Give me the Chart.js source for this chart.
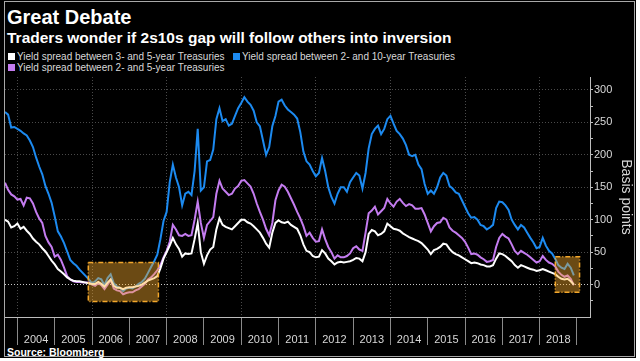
<!doctype html>
<html>
<head>
<meta charset="utf-8">
<title>Great Debate</title>
<script src="https://cdn.jsdelivr.net/npm/chart.js"></script>
<style>
  html, body { margin: 0; padding: 0; background: #fff; }
  #wrap { position: relative; width: 640px; height: 361px; overflow: hidden; font-family: "Liberation Sans", Arial, sans-serif; }
  #bg { position: absolute; left: 0; top: 0; width: 636px; height: 358px; background: #000; }
  #frame { position: absolute; left: 4px; top: 1px; width: 631px; height: 356px; border: 1px solid #a8a8a8; box-sizing: border-box; }
  canvas { position: absolute; left: 0; top: 0; }
  .t { position: absolute; left: 7px; color: #fff; font-weight: bold; white-space: nowrap; }
  #title { top: 7px; font-size: 20px; line-height: 20px; }
  #sub { top: 29px; font-size: 15.5px; line-height: 18px; }
  #source { top: 346px; font-size: 10.5px; line-height: 12px; }
  .leg { position: absolute; font-size: 10px; line-height: 11px; color: #d8d8d8; white-space: nowrap; padding-left: 9px; }
  .leg span { position: absolute; left: 0; top: 2px; width: 7px; height: 7px; }
</style>
</head>
<body>
<div id="wrap">
  <div id="bg"></div>
  <div id="frame"></div>
  <div class="t" id="title">Great Debate</div>
  <div class="t" id="sub">Traders wonder if 2s10s gap will follow others into inversion</div>
  <div id="legend"></div>
  <div class="t" id="source">Source: Bloomberg</div>
  <canvas id="chart" width="640" height="361"></canvas>
</div>
<script>
// monthly readings, first point Sep 2003, last point Dec 2018
const firstYear = 2003;
const firstMonth = 9;

const seriesNames = [
  'Yield spread between 3- and 5-year Treasuries',
  'Yield spread between 2- and 10-year Treasuries',
  'Yield spread between 2- and 5-year Treasuries'
];
const seriesColors = ['#ffffff', '#1c8af0', '#c47cf0'];

const spread3s5s = [
  100, 97, 88, 90,
  94, 86, 89, 83, 78, 71, 66, 62, 56, 51, 44, 37,
  31, 24, 20, 16, 11, 8, 6, 5, 5, 4, 3, 2,
  1, 1, 4, 1, -3, 3, 8, -2, -5, -5, -7, -5,
  -4, -4, -3, -2, 0, 3, 6, 8, 10, 13, 25, 40,
  50, 60, 72, 62, 55, 43, 48, 47, 48, 70, 95, 50,
  32, 45, 54, 58, 85, 102, 92, 89, 87, 85, 90, 95,
  100, 100, 96, 94, 90, 85, 80, 72, 63, 57, 80, 95,
  99, 96, 95, 97, 92, 89, 86, 76, 62, 52, 50, 44,
  42, 43, 53, 48, 40, 36, 31, 34, 35, 34, 35, 36,
  38, 41, 40, 36, 50, 78, 84, 82, 76, 78, 82, 94,
  90, 86, 85, 83, 79, 76, 73, 71, 69, 67, 64, 59,
  54, 47, 53, 55, 58, 63, 62, 55, 50, 47, 45, 42,
  39, 36, 33, 34, 33, 31, 30, 28, 28, 30, 40, 48,
  47, 44, 40, 36, 30, 26, 30, 28, 26, 24, 23, 21,
  22, 24, 22, 20, 18, 16, 12, 9, 8, 9, 5, 0
];

const spread2s10s = [
  266, 262, 242, 243,
  240, 237, 233, 230, 222, 212, 196, 182, 170, 152, 140, 126,
  105, 82, 74, 64, 51, 38, 33, 29, 23, 18, 13, 8,
  2, 5, 10, 8, -1, 10, 16, 2, -3, -5, -10, -6,
  -5, -6, -3, 1, 4, 9, 18, 27, 36, 46, 70, 98,
  112, 158, 185, 165, 150, 122, 140, 143, 138, 175, 240, 145,
  150, 190, 192, 208, 255, 272, 252, 255, 245, 248, 260, 272,
  280, 289, 282, 277, 268, 250, 244, 222, 200, 212, 244, 260,
  282, 285, 276, 270, 266, 262, 256, 235, 205, 190, 185, 175,
  167, 172, 195, 175, 150, 135, 125, 140, 150, 150, 143, 158,
  165, 172, 168, 148, 172, 210, 232, 240, 245, 232, 240, 255,
  260, 248, 237, 232, 225, 215, 200, 198, 200, 185, 178, 155,
  140, 145, 140, 150, 165, 172, 168, 152, 148, 142, 140, 130,
  120, 110, 103, 104, 100, 92, 90, 85, 88, 92, 118, 128,
  127, 122, 115, 100, 92, 85, 92, 88, 80, 72, 65, 56,
  58, 72, 60, 52, 48, 40, 30, 26, 24, 32, 26, 14
];

const spread2s5s = [
  157, 146, 139, 136,
  131, 132, 122, 134, 133, 125, 112, 102, 95, 75, 65, 58,
  43, 46, 38, 26, 13, 8, 5, 4, 4, 3, 3, 3,
  0, -2, 2, -1, -7, 0, 7, -6, -9, -10, -15, -13,
  -12, -12, -9, -7, -3, 1, 8, 11, 16, 22, 30, 42,
  52, 66, 92, 85, 76, 75, 78, 75, 76, 100, 128, 95,
  72, 92, 98, 104, 140, 160, 148, 143, 138, 140, 148, 152,
  160, 161, 156, 151, 140, 125, 112, 100, 86, 76, 95, 130,
  145, 154, 151, 143, 133, 123, 112, 102, 90, 75, 80, 72,
  66, 67, 85, 70, 58, 50, 40, 45, 42, 42, 44, 48,
  56, 59, 54, 52, 80, 110, 114, 120, 108, 113, 118, 132,
  125, 120, 128, 132, 126, 121, 124, 122, 117, 117, 118, 108,
  95, 82, 90, 95, 96, 103, 100, 88, 83, 80, 76, 72,
  66, 57, 47, 48, 46, 42, 39, 35, 36, 38, 58, 72,
  78, 74, 71, 62, 52, 47, 52, 49, 46, 42, 38, 34,
  36, 44, 38, 34, 32, 28, 20, 15, 12, 14, 9, -1
];

const yearTicks = [2004, 2005, 2006, 2007, 2008, 2009, 2010, 2011, 2012, 2013, 2014, 2015, 2016, 2017, 2018, 2019];
const yearLabels = ['2004', '2005', '2006', '2007', '2008', '2009', '2010', '2011', '2012', '2013', '2014', '2015', '2016', '2017', '2018', ''];
const yTicks = [-50, -25, 0, 25, 50, 75, 100, 125, 150, 175, 200, 225, 250, 275, 300];
const yLabelValues = [0, 50, 100, 150, 200, 250, 300];

// shaded areas, in years and basis points
const highlightBoxes = [
  { from: 2005.9, to: 2007.78, low: -26, high: 34 },
  { from: 2018.42, to: 2019.07, low: -12, high: 43 }
];

const allSeries = [spread3s5s, spread2s10s, spread2s5s];
const toPoints = (vals) => vals.map((v, i) => ({ x: firstYear + (firstMonth - 1 + i) / 12, y: v }));

// html legend
const legendBox = document.getElementById('legend');
const legendSpots = [[8, 51], [233, 51], [8, 62]];
seriesNames.forEach((name, i) => {
  const d = document.createElement('div');
  d.className = 'leg';
  d.style.left = legendSpots[i][0] + 'px';
  d.style.top = legendSpots[i][1] + 'px';
  d.innerHTML = '<span style="background:' + seriesColors[i] + '"></span>' + name;
  legendBox.appendChild(d);
});

const highlightPlugin = {
  id: 'highlight',
  afterDatasetsDraw(chart) {
    const { ctx, scales: { x, y } } = chart;
    ctx.save();
    highlightBoxes.forEach((b) => {
      const x0 = x.getPixelForValue(b.from);
      const x1 = x.getPixelForValue(b.to);
      const y0 = y.getPixelForValue(b.high);
      const y1 = y.getPixelForValue(b.low);
      ctx.fillStyle = 'rgba(255,176,48,0.42)';
      ctx.fillRect(x0, y0, x1 - x0, y1 - y0);
      ctx.setLineDash([5, 2, 1, 2]);
      ctx.lineWidth = 1.5;
      ctx.strokeStyle = '#f3a72b';
      ctx.strokeRect(x0, y0, x1 - x0, y1 - y0);
    });
    ctx.restore();
  }
};

const tickFont = { family: '"Liberation Sans", Arial, sans-serif', size: 11 };

new Chart(document.getElementById('chart'), {
  type: 'line',
  data: {
    datasets: allSeries.map((vals, i) => ({
      label: seriesNames[i],
      data: toPoints(vals),
      borderColor: seriesColors[i],
      backgroundColor: seriesColors[i],
      borderWidth: 2,
      pointRadius: 0,
      tension: 0,
      fill: false
    }))
  },
  options: {
    responsive: false,
    animation: false,
    parsing: false,
    layout: { padding: { left: 5, top: 77, right: 0, bottom: 0 } },
    plugins: { legend: { display: false }, tooltip: { enabled: false } },
    scales: {
      x: {
        type: 'linear',
        min: 2003.667,
        max: 2019.35,
        afterBuildTicks: (s) => { s.ticks = yearTicks.map((v) => ({ value: v })); },
        afterFit: (s) => { s.height = 44; },
        ticks: {
          autoSkip: false,
          maxRotation: 0,
          labelOffset: 18.65,
          padding: -12,
          color: '#d8d8d8',
          font: tickFont,
          callback: (v) => yearLabels[yearTicks.indexOf(v)]
        },
        grid: {
          color: (c) => (c.tick && c.tick.value % 2 === 0) ? '#4a4a4a' : 'transparent',
          tickColor: '#8a8a8a',
          tickLength: 28,
          lineWidth: 1
        },
        border: { color: '#bdbdbd', dash: [1, 2] }
      },
      y: {
        position: 'right',
        min: -50,
        max: 320,
        afterBuildTicks: (s) => { s.ticks = yTicks.map((v) => ({ value: v })); },
        afterFit: (s) => { s.width = 50; },
        ticks: {
          padding: 1,
          color: '#d8d8d8',
          font: tickFont,
          callback: (v) => yLabelValues.includes(v) ? String(v) : ''
        },
        grid: {
          color: (c) => {
            const v = c.tick ? c.tick.value : null;
            if (v === 0) return '#c8c8c8';
            if (v > 0 && v % 50 === 0) return '#4a4a4a';
            return 'transparent';
          },
          tickColor: (c) => (c.tick && c.tick.value > -50) ? '#bdbdbd' : 'transparent',
          tickLength: 3,
          lineWidth: 1
        },
        border: { color: '#bdbdbd', dash: [1, 2] },
        title: {
          display: true,
          text: 'Basis points',
          color: '#d8d8d8',
          font: { family: '"Liberation Sans", Arial, sans-serif', size: 14 },
          padding: { top: 6, bottom: 0 }
        }
      }
    }
  },
  plugins: [highlightPlugin]
});
</script>
</body>
</html>
